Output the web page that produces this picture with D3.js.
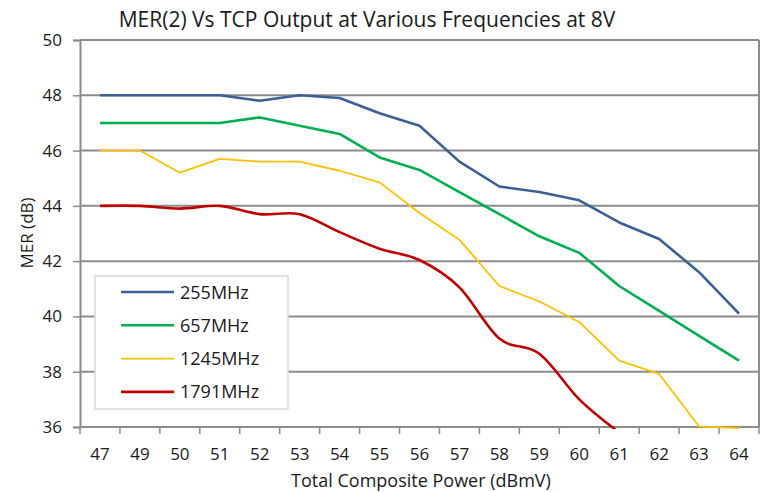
<!DOCTYPE html>
<html>
<head>
<meta charset="utf-8">
<script src="https://cdn.jsdelivr.net/npm/d3@7"></script>
<style>
body { margin: 0; background: #fff; }
svg text { font-family: "Open Sans", sans-serif; fill: #1a1a1a; }
</style>
</head>
<body>
<div id="chart"></div>
<script>
var tcp = ["47", "49", "50", "51", "52", "53", "54", "55", "56", "57", "58", "59", "60", "61", "62", "63", "64"];
var mer255 = [48, 48, 48, 48, 47.8, 48, 47.9, 47.35, 46.9, 45.6, 44.7, 44.5, 44.2, 43.4, 42.8, 41.6, 40.1];
var mer657 = [47, 47, 47, 47, 47.2, 46.9, 46.6, 45.75, 45.3, 44.5, 43.7, 42.9, 42.3, 41.1, 40.2, 39.3, 38.4];
var mer1245 = [46, 46, 45.2, 45.7, 45.6, 45.6, 45.27, 44.85, 43.74, 42.77, 41.1, 40.54, 39.8, 38.4, 37.92, 36.02, 35.96];
var mer1791 = [44, 44, 43.9, 44, 43.7, 43.7, 43.05, 42.45, 42.04, 41.05, 39.2, 38.65, 37.0, 35.8];
var yTicks = [36, 38, 40, 42, 44, 46, 48, 50];

var series = [
    {name: "255MHz", values: mer255, color: "#3b6096", width: 2.6, smooth: false},
    {name: "657MHz", values: mer657, color: "#00b050", width: 2.6, smooth: false},
    {name: "1245MHz", values: mer1245, color: "#ffc000", width: 1.8, smooth: false},
    {name: "1791MHz", values: mer1791, color: "#c00000", width: 2.6, smooth: true}
];

var width = 767, height = 492;
var plotLeft = 80, plotRight = 759, plotTop = 40, plotBottom = 427;

var svg = d3.select("#chart")
    .append("svg")
    .attr("width", width)
    .attr("height", height);

var x = d3.scaleBand().domain(tcp).range([plotLeft, plotRight]);
var y = d3.scaleLinear().domain([36, 50]).range([plotBottom, plotTop]);
var cx = function(i) { return x(tcp[i]) + x.bandwidth() / 2; };

// gridlines
svg.selectAll("line.grid")
    .data(yTicks)
    .enter()
    .append("line")
    .attr("class", "grid")
    .attr("x1", plotLeft).attr("x2", plotRight)
    .attr("y1", function(d) { return y(d); })
    .attr("y2", function(d) { return y(d); })
    .attr("stroke", "#8c8c8c")
    .attr("stroke-width", 2);

// y axis
var yAxis = svg.append("g")
    .attr("transform", "translate(" + plotLeft + ",0)")
    .call(d3.axisLeft(y).tickValues(yTicks).tickSize(7).tickPadding(11));
yAxis.select(".domain").attr("stroke", "#8c8c8c").attr("stroke-width", 2);
yAxis.selectAll(".tick line").attr("stroke", "#8c8c8c").attr("stroke-width", 1.5);
yAxis.selectAll("text").style("font-size", "17px").style("font-family", "Open Sans, sans-serif").attr("fill", "#1a1a1a");

// right border
svg.append("line")
    .attr("x1", plotRight).attr("x2", plotRight)
    .attr("y1", plotTop).attr("y2", plotBottom)
    .attr("stroke", "#8c8c8c").attr("stroke-width", 2);

// x axis: ticks between categories
var xAxis = svg.append("g")
    .attr("transform", "translate(0," + plotBottom + ")");
xAxis.selectAll("line.xt")
    .data(tcp.concat(["end"]))
    .enter()
    .append("line")
    .attr("x1", function(d, i) { return plotLeft + i * x.step(); })
    .attr("x2", function(d, i) { return plotLeft + i * x.step(); })
    .attr("y1", 0).attr("y2", 7)
    .attr("stroke", "#8c8c8c").attr("stroke-width", 1.5);
xAxis.selectAll("text")
    .data(tcp)
    .enter()
    .append("text")
    .attr("x", function(d, i) { return cx(i); })
    .attr("y", 33)
    .attr("text-anchor", "middle")
    .style("font-size", "17px")
    .text(function(d) { return d; });

// lines (clip slightly below the axis, as the original does)
svg.append("clipPath").attr("id", "plot")
    .append("rect")
    .attr("x", plotLeft).attr("y", plotTop)
    .attr("width", plotRight - plotLeft).attr("height", plotBottom - plotTop + 2);

series.forEach(function(s) {
    var line = d3.line()
        .x(function(d, i) { return cx(i); })
        .y(function(d) { return y(d); })
        .curve(s.smooth ? d3.curveCatmullRom.alpha(0) : d3.curveLinear);
    svg.append("path")
        .datum(s.values)
        .attr("clip-path", "url(#plot)")
        .attr("fill", "none")
        .attr("stroke", s.color)
        .attr("stroke-width", s.width)
        .attr("stroke-linejoin", "round")
        .attr("d", line);
});

// legend
var legend = svg.append("g");
legend.append("rect")
    .attr("x", 95).attr("y", 276)
    .attr("width", 193).attr("height", 133)
    .attr("fill", "#fff")
    .attr("stroke", "#d9d9d9")
    .attr("stroke-width", 1.5);
var item = legend.selectAll("g.item")
    .data(series)
    .enter()
    .append("g")
    .attr("transform", function(d, i) { return "translate(0," + (292 + i * 33.3) + ")"; });
item.append("line")
    .attr("x1", 121).attr("x2", 174)
    .attr("stroke", function(d) { return d.color; })
    .attr("stroke-width", function(d) { return d.width; });
item.append("text")
    .attr("x", 180).attr("y", 6.5)
    .style("font-size", "18px")
    .text(function(d) { return d.name; });

// titles
svg.append("text")
    .attr("x", 367).attr("y", 27)
    .attr("text-anchor", "middle")
    .style("font-size", "21px")
    .text("MER(2) Vs TCP Output at Various Frequencies at 8V");
svg.append("text")
    .attr("x", 421).attr("y", 487)
    .attr("text-anchor", "middle")
    .style("font-size", "18px")
    .text("Total Composite Power (dBmV)");
svg.append("text")
    .attr("transform", "translate(33,233) rotate(-90)")
    .attr("text-anchor", "middle")
    .style("font-size", "17px")
    .text("MER (dB)");
</script>
</body>
</html>
